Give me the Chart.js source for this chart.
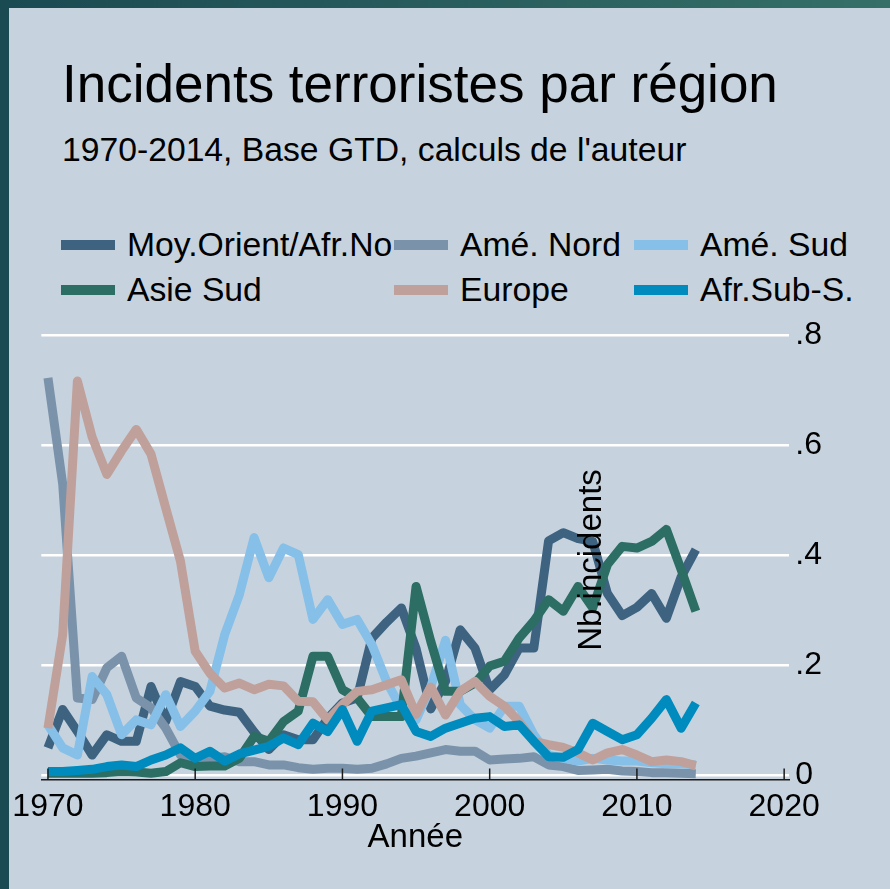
<!DOCTYPE html>
<html>
<head>
<meta charset="utf-8">
<title>Incidents terroristes par région</title>
<script src="https://cdn.jsdelivr.net/npm/chart.js@4.4.1/dist/chart.umd.min.js"></script>
<style>
  html, body { margin: 0; padding: 0; }
  body { width: 890px; height: 889px; position: relative; overflow: hidden; background: #c6d3de;
         font-family: 'Liberation Sans', Arial, sans-serif; color: #000; }
  #bandeHaut { position: absolute; left: 0; top: 0; width: 890px; height: 8px;
               background: linear-gradient(to right, #1a4a52, #366f68); }
  #bandeGauche { position: absolute; left: 0; top: 0; width: 9px; height: 889px; background: #1a4a52; }
  #titre { position: absolute; left: 62px; top: 57px; font-size: 53px; line-height: 1; white-space: nowrap; }
  #soustitre { position: absolute; left: 62px; top: 133px; font-size: 33.7px; line-height: 1; white-space: nowrap; }
  .leg { position: absolute; height: 34px; display: flex; align-items: center;
         font-size: 33.7px; line-height: 1; white-space: nowrap; }
  .leg .sw { display: inline-block; width: 54px; height: 10px; margin-right: 12px; }
  #graph { position: absolute; left: 0; top: 0; }
</style>
</head>
<body>
<div id="bandeHaut"></div>
<div id="bandeGauche"></div>
<div id="titre">Incidents terroristes par région</div>
<div id="soustitre">1970-2014, Base GTD, calculs de l'auteur</div>
<div id="legende"></div>
<canvas id="graph" width="890" height="889"></canvas>

<script>
// années
const annees = [1970,1971,1972,1973,1974,1975,1976,1977,1978,1979,
                1980,1981,1982,1983,1984,1985,1986,1987,1988,1989,
                1990,1991,1992,1993,1994,1995,1996,1997,1998,1999,
                2000,2001,2002,2003,2004,2005,2006,2007,2008,2009,
                2010,2011,2012,2013,2014];

// part des incidents par région
const moyOrient = [0.049,0.119,0.079,0.036,0.073,0.061,0.061,0.161,0.097,0.170,
                   0.161,0.125,0.118,0.114,0.078,0.046,0.073,0.064,0.064,0.103,
                   0.131,0.140,0.249,0.278,0.304,0.230,0.120,0.170,0.264,0.231,
                   0.155,0.182,0.231,0.231,0.426,0.441,0.430,0.425,0.330,0.290,
                   0.305,0.330,0.285,0.360,0.410];
const ameNord   = [0.723,0.530,0.140,0.137,0.195,0.216,0.140,0.122,0.085,0.036,
                   0.027,0.030,0.033,0.024,0.024,0.018,0.018,0.013,0.010,0.012,
                   0.012,0.010,0.012,0.020,0.030,0.034,0.040,0.046,0.043,0.043,
                   0.027,0.029,0.030,0.033,0.018,0.015,0.008,0.009,0.010,0.007,
                   0.006,0.004,0.004,0.003,0.002];
const ameSud    = [0.091,0.049,0.036,0.179,0.146,0.073,0.100,0.091,0.146,0.088,
                   0.116,0.152,0.255,0.328,0.432,0.359,0.413,0.401,0.283,0.319,
                   0.274,0.283,0.237,0.170,0.120,0.100,0.160,0.245,0.128,0.100,
                   0.085,0.125,0.125,0.073,0.036,0.030,0.025,0.030,0.027,0.025,
                   0.025,0.022,0.020,0.020,0.018];
const asieSud   = [0.003,0.003,0.003,0.003,0.004,0.006,0.005,0.003,0.006,0.022,
                   0.015,0.016,0.016,0.030,0.070,0.061,0.097,0.116,0.216,0.216,
                   0.155,0.140,0.106,0.106,0.106,0.343,0.243,0.152,0.152,0.167,
                   0.198,0.207,0.249,0.280,0.319,0.298,0.343,0.304,0.383,0.416,
                   0.413,0.425,0.447,0.374,0.298];
const europe    = [0.085,0.255,0.717,0.615,0.547,0.590,0.629,0.584,0.486,0.389,
                   0.225,0.185,0.158,0.167,0.155,0.165,0.162,0.134,0.133,0.100,
                   0.128,0.152,0.155,0.164,0.173,0.110,0.160,0.109,0.152,0.170,
                   0.143,0.125,0.097,0.061,0.055,0.050,0.040,0.027,0.040,0.046,
                   0.036,0.024,0.027,0.024,0.017];
const afrSub    = [0.006,0.006,0.008,0.010,0.015,0.018,0.015,0.027,0.036,0.049,
                   0.030,0.043,0.025,0.038,0.045,0.052,0.067,0.055,0.094,0.079,
                   0.119,0.061,0.116,0.122,0.128,0.079,0.070,0.085,0.094,0.103,
                   0.106,0.088,0.091,0.061,0.033,0.032,0.046,0.094,0.079,0.064,
                   0.073,0.103,0.137,0.085,0.131];

const regions = ['Moy.Orient/Afr.No', 'Amé. Nord', 'Amé. Sud', 'Asie Sud', 'Europe', 'Afr.Sub-S.'];
const series  = [moyOrient, ameNord, ameSud, asieSud, europe, afrSub];
const couleurs = ['#3d6381', '#7b93aa', '#86c0e8', '#2c6e63', '#c0a09a', '#008bbe'];

const xTicks = [1970, 1980, 1990, 2000, 2010, 2020];
const yTicks = [0, 0.2, 0.4, 0.6, 0.8];

Chart.defaults.font.family = "'Liberation Sans', Arial, sans-serif";
Chart.defaults.color = '#000';

// légende en 3 colonnes comme l'original
const colsLeg = [61, 394, 634];
const rowsLeg = [244.5, 290];
const legende = document.getElementById('legende');
regions.forEach((nom, i) => {
    const item = document.createElement('div');
    item.className = 'leg';
    item.style.left = colsLeg[i % 3] + 'px';
    item.style.top = (rowsLeg[Math.floor(i / 3)] - 17) + 'px';
    const sw = document.createElement('span');
    sw.className = 'sw';
    sw.style.background = couleurs[i];
    item.appendChild(sw);
    item.appendChild(document.createTextNode(nom));
    legende.appendChild(item);
});

// petits repères de l'axe x vers l'intérieur + titre de l'axe y
const reperes = {
    id: 'reperes',
    afterDatasetsDraw(chart) {
        const { ctx, chartArea } = chart;
        const x = chart.scales.x;
        ctx.save();
        ctx.strokeStyle = '#1a1a1a';
        ctx.lineWidth = 1.5;
        xTicks.forEach(v => {
            const px = x.getPixelForValue(v);
            ctx.beginPath();
            ctx.moveTo(px, chartArea.bottom);
            ctx.lineTo(px, chartArea.bottom - 11);
            ctx.stroke();
        });
        ctx.fillStyle = '#000';
        ctx.font = "33px 'Liberation Sans', Arial, sans-serif";
        ctx.translate(601, 560);
        ctx.rotate(-Math.PI / 2);
        ctx.textAlign = 'center';
        ctx.textBaseline = 'alphabetic';
        ctx.fillText('Nb.incidents', 0, 0);
        ctx.restore();
    }
};

new Chart(document.getElementById('graph'), {
    type: 'line',
    data: {
        datasets: series.map((s, i) => ({
            label: regions[i],
            data: annees.map((a, j) => ({ x: a, y: s[j] })),
            borderColor: couleurs[i],
            backgroundColor: couleurs[i],
            borderWidth: 9,
            pointRadius: 0,
            tension: 0,
            fill: false,
            borderJoinStyle: 'round',
            order: regions.length - 1 - i
        }))
    },
    options: {
        responsive: false,
        animation: false,
        layout: { padding: { left: 40, right: 62, top: 335.5, bottom: 24.5 } },
        plugins: {
            legend: { display: false },
            tooltip: { enabled: false },
            title: { display: false }
        },
        scales: {
            x: {
                type: 'linear',
                min: 1969.55,
                max: 2020.35,
                afterBuildTicks: s => { s.ticks = xTicks.map(v => ({ value: v })); },
                grid: { drawOnChartArea: false, drawTicks: false },
                border: { display: true, color: '#1a1a1a', width: 1.5 },
                ticks: {
                    font: { size: 32, lineHeight: 1 },
                    padding: 12,
                    maxRotation: 0,
                    autoSkip: false,
                    callback: v => String(v)
                },
                title: {
                    display: true,
                    text: 'Année',
                    font: { size: 33, lineHeight: 1 },
                    padding: { top: -14, bottom: 10 }
                }
            },
            y: {
                position: 'right',
                min: -0.0085,
                max: 0.8,
                afterBuildTicks: s => { s.ticks = yTicks.map(v => ({ value: v })); },
                grid: { color: '#ffffff', lineWidth: 2.5, drawTicks: false },
                border: { display: false },
                ticks: {
                    font: { size: 32, lineHeight: 1 },
                    padding: 6,
                    callback: v => v === 0 ? '0' : v.toFixed(1).replace(/^0/, '')
                }
            }
        }
    },
    plugins: [reperes]
});
</script>
</body>
</html>
